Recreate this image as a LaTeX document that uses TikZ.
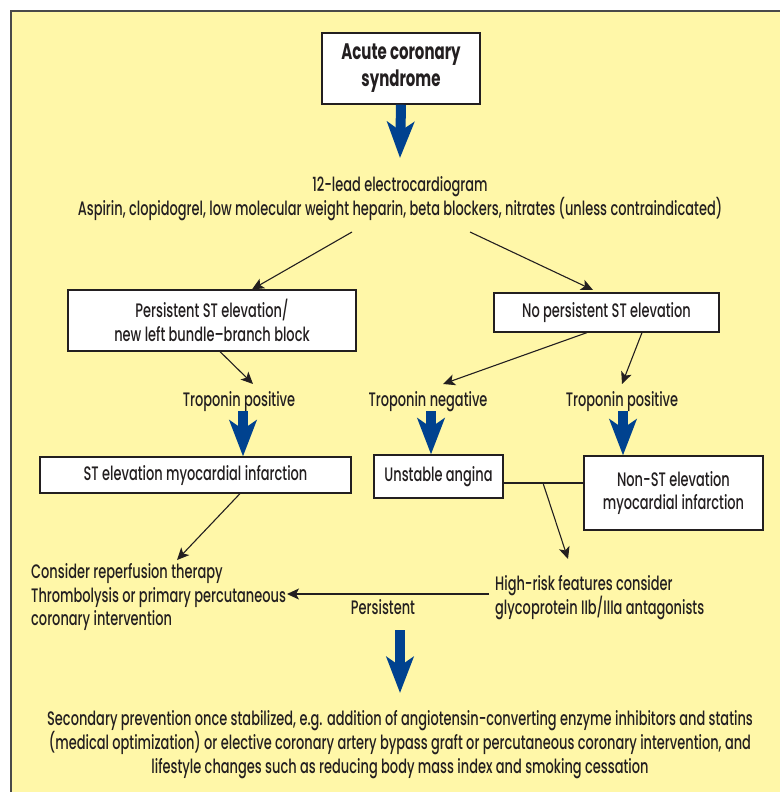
\documentclass[tikz,border=0pt]{standalone}
\usepackage{fontspec}
\setmainfont{Poppins}[UprightFont={* Medium}, BoldFont={* Bold}, FakeStretch=0.665]
\usetikzlibrary{arrows.meta}
\definecolor{bgyellow}{HTML}{FFF7A8}
\definecolor{arrowblue}{HTML}{00428F}
\definecolor{framegrey}{HTML}{4A4A4A}
\definecolor{ink}{HTML}{231F20}
\tikzset{
  txt/.style={font=\fontsize{19.5}{23.5}\selectfont, text=ink, inner sep=0pt, align=center},
  label/.style={txt, yshift=-2.5pt},
  box/.style={txt, draw=ink, fill=white, line width=1.2pt},
  thin/.style={draw=ink, line width=1.1pt},
  arr/.style={thin, -{Stealth[length=12pt,width=11pt,inset=3pt]}},
  bigarrow/.style={draw=arrowblue, line width=10pt, -{Stealth[length=36pt,width=27pt,inset=9pt]}}
}
\begin{document}
\begin{tikzpicture}[x=1pt,y=-1pt]
\useasboundingbox (0,0) rectangle (780,792);
\fill[bgyellow] (11,11) rectangle (780,792);
\draw[framegrey, line width=1.5pt] (11,792) -- (11,11) -- (780,11);

% boxes
\node[box, line width=1.4pt, minimum width=158pt, minimum height=71pt, font=\fontsize{22.5}{27}\selectfont\bfseries] (acs) at (401,68.5) {Acute coronary\\syndrome};
\node[label] (ecg) at (400,196) {12-lead electrocardiogram\\Aspirin, clopidogrel, low molecular weight heparin, beta blockers, nitrates (unless contraindicated)};
\node[box, minimum width=288pt, minimum height=61pt] (pste) at (212,320.5) {Persistent ST elevation/\\new left bundle--branch block};
\node[box, minimum width=225pt, minimum height=39pt] (npste) at (606.5,312.5) {No persistent ST elevation};
\node[label] (tpos1) at (239,399) {Troponin positive};
\node[label] (tneg) at (428,399) {Troponin negative};
\node[label] (tpos2) at (622,399) {Troponin positive};
\node[box, minimum width=311pt, minimum height=36pt] (stemi) at (195.5,475) {ST elevation myocardial infarction};
\node[box, minimum width=129pt, minimum height=43pt] (ua) at (438.5,476.5) {Unstable angina};
\node[box, minimum width=179pt, minimum height=74pt] (nstemi) at (673.5,493) {Non-ST elevation\\myocardial infarction};
\node[label, align=left, anchor=west] (hr) at (495,595) {High-risk features consider\\glycoprotein IIb/IIIa antagonists};
\node[label, align=left, anchor=west] (cons) at (31,594.5) {Consider reperfusion therapy\\Thrombolysis or primary percutaneous\\coronary intervention};
\node[label] (pers) at (383,605) {Persistent};
\node[label] (sec) at (400,742) {Secondary prevention once stabilized, e.g. addition of angiotensin-converting enzyme inhibitors and statins\\(medical optimization) or elective coronary artery bypass graft or percutaneous coronary intervention, and\\lifestyle changes such as reducing body mass index and smoking cessation};

% coordinates for connector ends
\coordinate (e1) at (352,232);
\coordinate (e2) at (470,232);
\coordinate (j) at (543,483);
\coordinate (hrtip) at (568,559);
\coordinate (constip) at (177,560);
\coordinate (perstail) at (489,594);
\coordinate (perstip) at (287,594);

% black connectors
\draw[arr] (e1) -- (pste.north -| 252,0);
\draw[arr] (e2) -- (593,290);
\draw[arr] (pste.south -| 220,0) -- (253,384);
\draw[arr] (npste.south -| 587,0) -- (443,384);
\draw[arr] (npste.south -| 642,0) -- (622,384);
\draw[thin] (ua.east |- j) -- (nstemi.west |- j);
\draw[arr] (j) -- (hrtip);
\draw[arr] (stemi.south -| 240,0) -- (constip);
\draw[arr] (perstail) -- (perstip);

% blue arrows
\draw[bigarrow] (acs.south) -- (400,158);
\draw[bigarrow] (243,411) -- (stemi.north -| 243,0);
\draw[bigarrow] (431,411) -- (ua.north -| 431,0);
\draw[bigarrow] (623,411) -- (nstemi.north -| 623,0);
\draw[bigarrow] (400,630) -- (400,693);
\end{tikzpicture}
\end{document}
